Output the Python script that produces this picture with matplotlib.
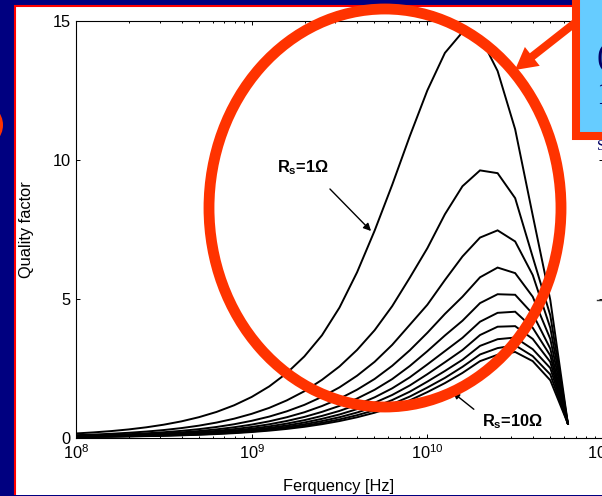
import matplotlib
matplotlib.use("Agg")
import matplotlib.pyplot as plt
from matplotlib.patches import Rectangle, Ellipse, FancyArrow

plt.rcParams['font.family'] = ['Liberation Sans', 'DejaVu Sans']
plt.rcParams['mathtext.fontset'] = 'custom'
plt.rcParams['mathtext.rm'] = 'Liberation Sans'
plt.rcParams['mathtext.bf'] = 'Liberation Sans:bold'
plt.rcParams['mathtext.it'] = 'Liberation Sans:italic'

# ---------------- data ----------------
freq = [1.000e8, 1.259e8, 1.585e8, 1.995e8, 2.512e8, 3.162e8, 3.981e8, 5.012e8,
        6.310e8, 7.943e8, 1.000e9, 1.259e9, 1.585e9, 1.995e9, 2.512e9, 3.162e9,
        3.981e9, 5.012e9, 6.310e9, 7.943e9, 1.000e10, 1.259e10, 1.585e10,
        1.995e10, 2.512e10, 3.162e10, 3.981e10, 5.012e10, 6.310e10]

q_rs1 = [0.146, 0.184, 0.231, 0.291, 0.367, 0.462, 0.581, 0.732, 0.921, 1.16, 1.46, 1.84, 2.32, 2.92, 3.68, 4.68, 5.95, 7.45, 9.1, 10.85, 12.5, 13.85, 14.6, 14.45, 13.2, 11.1, 8.0, 4.95, 0.5]
q_rs2 = [0.085, 0.107, 0.135, 0.170, 0.214, 0.269, 0.339, 0.427, 0.538, 0.677, 0.852, 1.067, 1.337, 1.666, 2.076, 2.559, 3.154, 3.864, 4.731, 5.753, 6.816, 8.04, 9.05, 9.62, 9.52, 8.62, 6.5, 4.4, 0.5]
q_rs3 = [0.060, 0.0757, 0.0953, 0.120, 0.151, 0.190, 0.239, 0.301, 0.379, 0.477, 0.601, 0.753, 0.943, 1.175, 1.464, 1.806, 2.225, 2.726, 3.337, 4.058, 4.78, 5.67, 6.52, 7.2, 7.46, 7.06, 5.85, 3.95, 0.5]
q_rs4 = [0.0465, 0.0585, 0.0737, 0.0928, 0.117, 0.147, 0.185, 0.233, 0.293, 0.369, 0.465, 0.583, 0.730, 0.909, 1.133, 1.397, 1.722, 2.109, 2.582, 3.140, 3.77, 4.45, 5.07, 5.77, 6.12, 5.92, 5.07, 3.55, 0.5]
q_rs5 = [0.0379, 0.0477, 0.0601, 0.0756, 0.0952, 0.120, 0.151, 0.190, 0.239, 0.301, 0.379, 0.475, 0.595, 0.741, 0.923, 1.139, 1.403, 1.719, 2.104, 2.574, 3.108, 3.674, 4.205, 4.84, 5.16, 5.14, 4.45, 3.2, 0.5]
q_rs6 = [0.0319, 0.0402, 0.0506, 0.0636, 0.0801, 0.101, 0.127, 0.160, 0.201, 0.253, 0.319, 0.400, 0.501, 0.624, 0.777, 0.958, 1.181, 1.447, 1.771, 2.167, 2.632, 3.112, 3.59, 4.17, 4.49, 4.53, 3.95, 2.95, 0.5]
q_rs7 = [0.0276, 0.0347, 0.0437, 0.0551, 0.0693, 0.0873, 0.110, 0.138, 0.174, 0.219, 0.276, 0.346, 0.433, 0.540, 0.672, 0.829, 1.022, 1.252, 1.532, 1.874, 2.28, 2.71, 3.15, 3.69, 3.99, 4.01, 3.55, 2.72, 0.5]
q_rs8 = [0.0243, 0.0306, 0.0385, 0.0485, 0.0610, 0.0768, 0.0967, 0.122, 0.153, 0.193, 0.243, 0.304, 0.381, 0.475, 0.592, 0.730, 0.900, 1.102, 1.349, 1.650, 2.012, 2.395, 2.80, 3.30, 3.54, 3.60, 3.18, 2.5, 0.5]
q_rs9 = [0.0217, 0.0273, 0.0344, 0.0433, 0.0545, 0.0686, 0.0864, 0.109, 0.137, 0.172, 0.217, 0.272, 0.341, 0.424, 0.529, 0.652, 0.803, 0.984, 1.205, 1.474, 1.80, 2.147, 2.545, 2.99, 3.22, 3.32, 2.93, 2.27, 0.5]
q_rs10 = [0.0197, 0.0248, 0.0312, 0.0393, 0.0495, 0.0623, 0.0784, 0.0987, 0.124, 0.156, 0.197, 0.247, 0.309, 0.385, 0.480, 0.592, 0.729, 0.893, 1.094, 1.338, 1.635, 1.959, 2.326, 2.75, 2.98, 3.08, 2.75, 2.06, 0.5]

series = [q_rs1, q_rs2, q_rs3, q_rs4, q_rs5, q_rs6, q_rs7, q_rs8, q_rs9, q_rs10]
yticks = [0, 5, 10, 15]
label_rs1 = r'R$_{\mathbf{s}}$=1Ω'
label_rs10 = r'R$_{\mathbf{s}}$=10Ω'

# ---------------- figure ----------------
W, H = 602, 496
NAVY = '#000080'
RED = '#FF3300'
fig = plt.figure(figsize=(W / 100, H / 100), dpi=100, facecolor=NAVY)

# background overlay (white panel)
bg = fig.add_axes([0, 0, 1, 1], zorder=0)
bg.set_xlim(0, W); bg.set_ylim(H, 0); bg.axis('off')
bg.add_patch(Rectangle((15, 6), 640, 520, facecolor='white', edgecolor='#FF0000', lw=1.5))

# main axes
x0, x1, yt, yb = 76, 603, 21, 437.5
ax = fig.add_axes([x0 / W, 1 - yb / H, (x1 - x0) / W, (yb - yt) / H], zorder=1)
ax.patch.set_alpha(0)
for q in series:
    ax.plot(freq, q, color='black', lw=1.4, solid_joinstyle='miter')
ax.set_xscale('log')
ax.set_xlim(1e8, 1e11)
ax.set_ylim(0, 15)
ax.set_yticks(yticks)
ax.tick_params(which='both', direction='in', top=True, right=True, labelsize=11.8, width=0.7)
ax.tick_params(which='major', length=3.0, pad=4)
ax.tick_params(axis='x', which='major', pad=4.5)
ax.tick_params(which='minor', length=1.7)
for s in ax.spines.values():
    s.set_linewidth(0.8)
ax.set_ylabel('Quality factor', fontsize=11.8)
ax.yaxis.set_label_coords((34 - x0) / (x1 - x0), 0.5)

# foreground overlay
ov = fig.add_axes([0, 0, 1, 1], zorder=2)
ov.set_xlim(0, W); ov.set_ylim(H, 0); ov.axis('off')
ov.patch.set_alpha(0)

ov.text(339, 487, 'Ferquency [Hz]', ha='center', va='center', fontsize=11.8)

# annotations
ov.text(277, 168, label_rs1, fontsize=11.8, fontweight='bold', ha='left', va='center')
ov.annotate('', xy=(373, 233), xytext=(328, 187),
            arrowprops=dict(arrowstyle='-|>', color='black', lw=1.0, mutation_scale=11))
ov.text(482, 422, label_rs10, fontsize=11.8, fontweight='bold', ha='left', va='center')
ov.annotate('', xy=(451, 391), xytext=(476, 411),
            arrowprops=dict(arrowstyle='-|>', color='black', lw=1.0, mutation_scale=9))

# big red ellipse
ov.add_patch(Ellipse((385, 208), 352, 398, fill=False, edgecolor=RED, lw=7.8, zorder=5))
# partial circle at left edge
ov.add_patch(Ellipse((-19, 125), 34, 34, fill=False, edgecolor=RED, lw=7.2, zorder=5))

# red arrow from the callout box
ov.add_patch(FancyArrow(585, 15, 515 - 585, 70 - 15, width=8, head_width=24, head_length=22,
                        length_includes_head=True, color=RED, lw=0, zorder=6))
# light blue callout box
ov.add_patch(Rectangle((576, -20), 60, 156, facecolor='#66CCFF', edgecolor=RED, lw=5.8, zorder=7))
# partially visible slide text (cut at right edge)
ov.text(597, 58, '(', fontsize=24, color='#000066', ha='left', va='center',
        family='Liberation Serif', zorder=8)
ov.text(596, 96, '1', fontsize=24, color='#000066', ha='left', va='center',
        family='Liberation Serif', zorder=8)
ov.text(597, 147, 'S', fontsize=11, color='#000066', ha='left', va='center',
        family='Liberation Serif', zorder=8)
ov.plot([597, 602], [300, 300], color='#333333', lw=1.0, zorder=8)

# bottom navy strip
ov.add_patch(Rectangle((0, 494.5), W, 5, facecolor=NAVY, edgecolor='none', zorder=9))

fig.savefig('out.png', dpi=100, facecolor=NAVY)
